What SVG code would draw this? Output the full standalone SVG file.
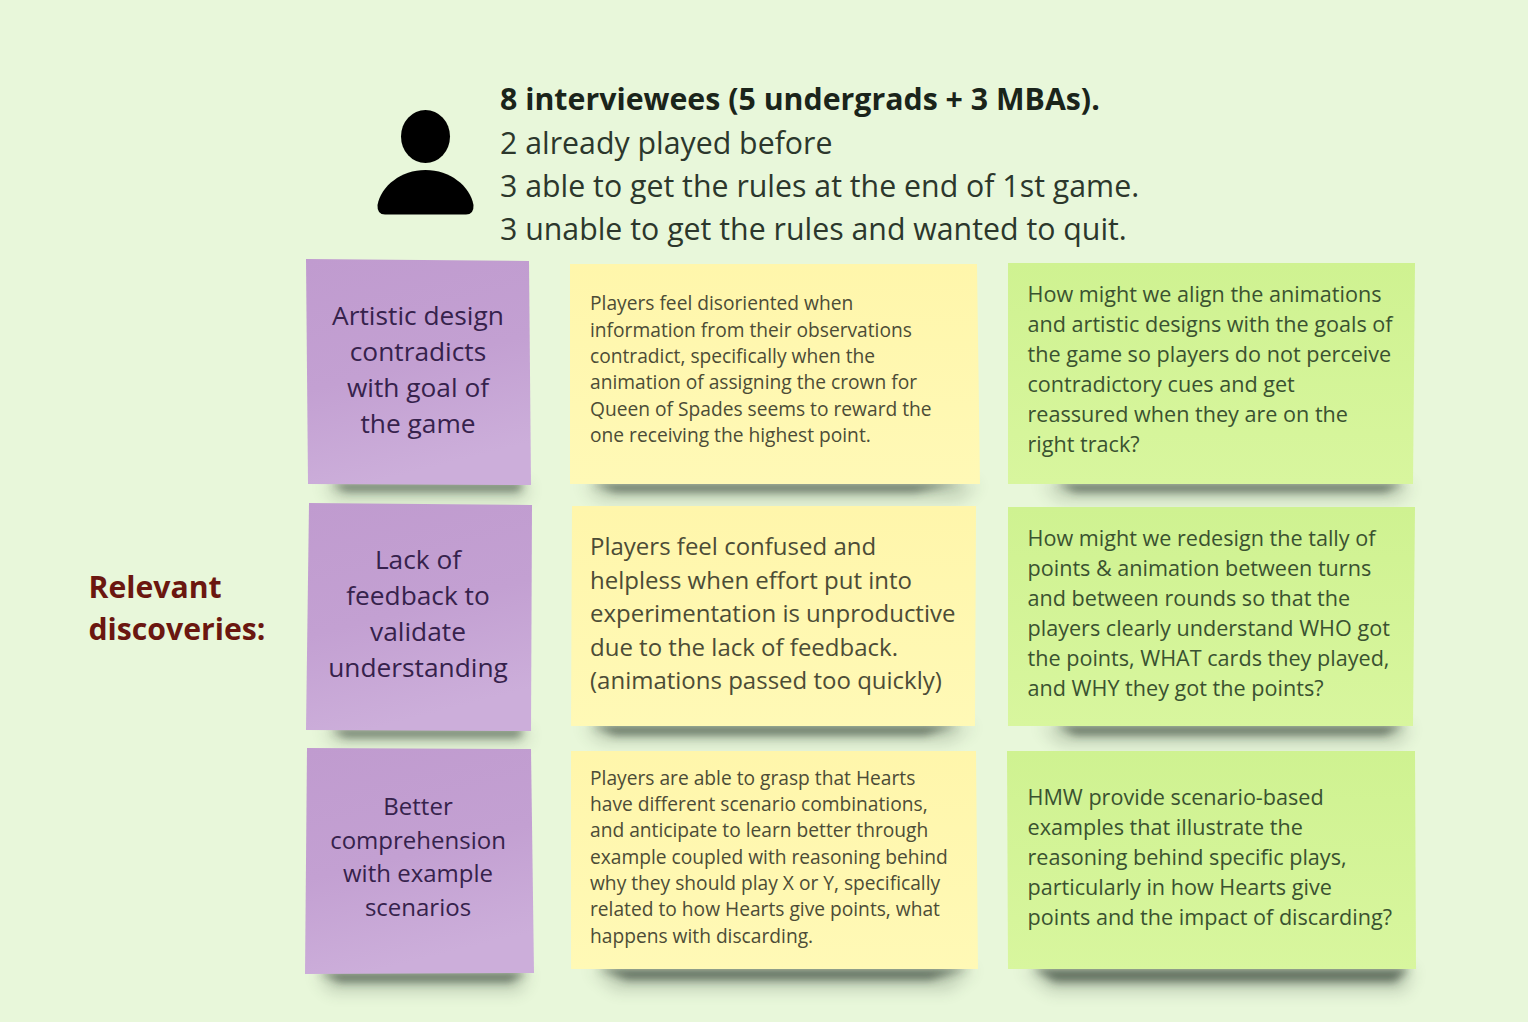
<svg xmlns="http://www.w3.org/2000/svg" width="1528" height="1022" viewBox="0 0 1528 1022">
<defs>
<linearGradient id="gp" x1="0" y1="0" x2="0.25" y2="1"><stop offset="0" stop-color="#c09bcf"/><stop offset="0.55" stop-color="#c3a0d2"/><stop offset="1" stop-color="#ccaeda"/></linearGradient>
<linearGradient id="gy" x1="0" y1="0" x2="0" y2="1"><stop offset="0" stop-color="#fff6ab"/><stop offset="1" stop-color="#fff9b6"/></linearGradient>
<linearGradient id="gg" x1="0" y1="0" x2="0" y2="1"><stop offset="0" stop-color="#cff291"/><stop offset="1" stop-color="#d8f69e"/></linearGradient>
<filter id="b1" x="-20%" y="-300%" width="140%" height="700%"><feGaussianBlur stdDeviation="4"/></filter>
<filter id="b2" x="-20%" y="-300%" width="140%" height="700%"><feGaussianBlur stdDeviation="8"/></filter>
</defs>
<style>
text{font-family:"Open Sans","Noto Sans","Liberation Sans",sans-serif}
.hd{font-size:30.300px;fill:#2c372c}
.hb{font-weight:700;fill:#1a241a}
.p{font-size:26.300px;fill:#36224c;text-anchor:middle}
.p3{font-size:24px}
.y{font-size:19.200px;fill:#4c4c36}
.y2{font-size:24px}
.g{font-size:21.600px;fill:#3a5230}
.sh{fill:#26342a;opacity:.62;filter:url(#b1)}
.halo{fill:#26342a;opacity:.2;filter:url(#b2)}
.rel{font-size:30.200px;font-weight:700;fill:#6b1710}
</style>
<rect width="1528" height="1022" fill="#e8f7da"/>
<g id="person"><ellipse cx="425.500" cy="136.500" rx="24.500" ry="26.500" fill="#000"/><path d="M385 214.500Q377 214.500 377.500 205C381 186 401 170 425.500 170S470 186 473.500 205Q474 214.500 466 214.500Z" fill="#000"/></g>
<g id="summary">
<text class="hd hb" x="500" y="109.500">8 interviewees (5 undergrads + 3 MBAs).</text>
<text class="hd" x="500" y="153.500">2 already played before</text>
<text class="hd" x="500" y="196.500">3 able to get the rules at the end of 1st game.</text>
<text class="hd" x="500" y="239.500">3 unable to get the rules and wanted to quit.</text>
</g>
<g id="relevant"><text class="rel" x="88.500" y="598">Relevant</text><text class="rel" x="88.500" y="640">discoveries:</text></g>
<g id="shadows">
<path class="halo" d="M322 484H530L525 500H335Z"/><path class="halo" d="M582 484H980L960 500H600Z"/><path class="halo" d="M1040 484H1412L1400 500H1060Z"/>
<path class="halo" d="M322 730H530L525 744H335Z"/><path class="halo" d="M582 726H975L950 742H600Z"/><path class="halo" d="M1040 726H1412L1400 744H1060Z"/>
<path class="halo" d="M315 973H530L520 992H330Z"/><path class="halo" d="M590 969H975L950 990H615Z"/><path class="halo" d="M1022 969H1414L1405 992H1050Z"/>
<path class="sh" d="M330 483H525L518 491H345Z"/><path class="sh" d="M590 483H965L915 492H615Z"/><path class="sh" d="M1055 483H1405L1385 492H1075Z"/>
<path class="sh" d="M330 729H525L518 737H345Z"/><path class="sh" d="M590 725H960L925 735H615Z"/><path class="sh" d="M1055 725H1405L1385 735H1075Z"/>
<path class="sh" d="M318 972H528L510 982H340Z"/><path class="sh" d="M597 968H970L930 980H627Z"/><path class="sh" d="M1032 968H1410L1395 982H1055Z"/>
</g>
<g id="note-p1"><path d="M306 259L529 261L531 485L308 484Z" fill="url(#gp)"/><text class="p" x="418" y="325">Artistic design</text><text class="p" x="418" y="361">contradicts</text><text class="p" x="418" y="397">with goal of</text><text class="p" x="418" y="433">the game</text></g>
<g id="note-y1"><path d="M570 264H977L980 484H570Z" fill="url(#gy)"/>
<text class="y" x="590" y="310">Players feel disoriented when</text><text class="y" x="590" y="337">information from their observations</text><text class="y" x="590" y="363">contradict, specifically when the</text><text class="y" x="590" y="389">animation of assigning the crown for</text><text class="y" x="590" y="416">Queen of Spades seems to reward the</text><text class="y" x="590" y="442">one receiving the highest point.</text></g>
<g id="note-g1"><path d="M1008 263H1415L1413 484H1008Z" fill="url(#gg)"/>
<text class="g" x="1027.500" y="302">How might we align the animations</text><text class="g" x="1027.500" y="332">and artistic designs with the goals of</text><text class="g" x="1027.500" y="362">the game so players do not perceive</text><text class="g" x="1027.500" y="392">contradictory cues and get</text><text class="g" x="1027.500" y="422">reassured when they are on the</text><text class="g" x="1027.500" y="452">right track?</text></g>
<g id="note-p2"><path d="M309 503L532 505L531 731L306 730Z" fill="url(#gp)"/><text class="p" x="418" y="569">Lack of</text><text class="p" x="418" y="605">feedback to</text><text class="p" x="418" y="641">validate</text><text class="p" x="418" y="677">understanding</text></g>
<g id="note-y2"><path d="M572 506H976L975 726H571Z" fill="url(#gy)"/>
<text class="y y2" x="590" y="555">Players feel confused and</text><text class="y y2" x="590" y="589">helpless when effort put into</text><text class="y y2" x="590" y="622">experimentation is unproductive</text><text class="y y2" x="590" y="656">due to the lack of feedback.</text><text class="y y2" x="590" y="689">(animations passed too quickly)</text></g>
<g id="note-g2"><path d="M1008 507H1415L1413 726H1008Z" fill="url(#gg)"/>
<text class="g" x="1027.500" y="546">How might we redesign the tally of</text><text class="g" x="1027.500" y="576">points &amp; animation between turns</text><text class="g" x="1027.500" y="606">and between rounds so that the</text><text class="g" x="1027.500" y="636">players clearly understand WHO got</text><text class="g" x="1027.500" y="666">the points, WHAT cards they played,</text><text class="g" x="1027.500" y="696">and WHY they got the points?</text></g>
<g id="note-p3"><path d="M307 748L531 749L534 973L305 974Z" fill="url(#gp)"/><text class="p p3" x="418" y="815">Better</text><text class="p p3" x="418" y="849">comprehension</text><text class="p p3" x="418" y="882">with example</text><text class="p p3" x="418" y="916">scenarios</text></g>
<g id="note-y3"><path d="M571 751H976L978 969H571Z" fill="url(#gy)"/>
<text class="y" x="590" y="785">Players are able to grasp that Hearts</text><text class="y" x="590" y="811">have different scenario combinations,</text><text class="y" x="590" y="837">and anticipate to learn better through</text><text class="y" x="590" y="864">example coupled with reasoning behind</text><text class="y" x="590" y="890">why they should play X or Y, specifically</text><text class="y" x="590" y="916">related to how Hearts give points, what</text><text class="y" x="590" y="943">happens with discarding.</text></g>
<g id="note-g3"><path d="M1007 751H1415L1416 969H1008Z" fill="url(#gg)"/>
<text class="g" x="1027.500" y="805">HMW provide scenario-based</text><text class="g" x="1027.500" y="835">examples that illustrate the</text><text class="g" x="1027.500" y="865">reasoning behind specific plays,</text><text class="g" x="1027.500" y="895">particularly in how Hearts give</text><text class="g" x="1027.500" y="925">points and the impact of discarding?</text></g>
</svg>
